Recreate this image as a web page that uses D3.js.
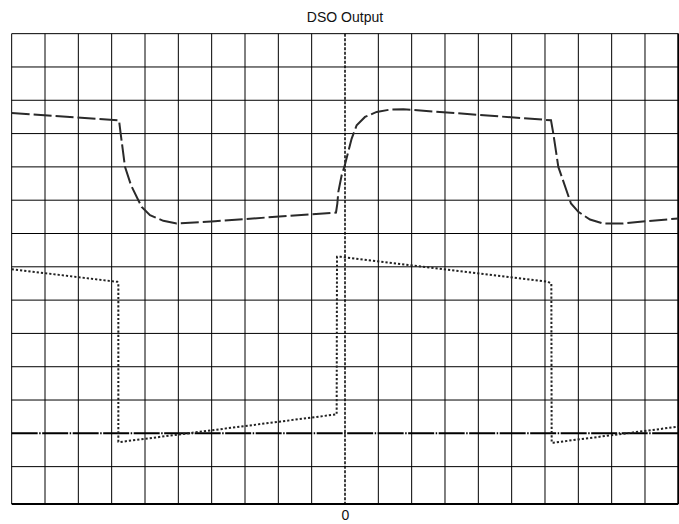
<!DOCTYPE html>
<html>
<head>
<meta charset="utf-8">
<script src="https://cdn.jsdelivr.net/npm/d3@7"></script>
<style>
  html, body { margin: 0; padding: 0; background: #fff; }
  svg { display: block; font-family: "Liberation Sans", Arial, sans-serif; }
</style>
</head>
<body>
<svg id="chart" width="679" height="524"></svg>
<script>
// ---- data (x in horizontal divisions, 0 = trigger; y in vertical divisions, 0 = ground) ----
const title = "DSO Output";
const xTickLabels = ["0"];
const xTickValues = [0];

const ch1X = [-10.0, -6.78, -6.73, -6.6, -6.42, -6.2, -6.1, -5.85, -5.45, -5.05, -3.9, -0.27, -0.23, -0.2, -0.1, -0.02, 0.2, 0.35, 0.6, 0.95, 1.35, 1.75, 6.18, 6.25, 6.4, 6.78, 7.0, 7.35, 7.75, 8.35, 9.05, 10.0];
const ch1Y = [9.62, 9.40, 9.0, 8.0, 7.45, 7.0, 6.8, 6.55, 6.38, 6.3, 6.37, 6.63, 6.9, 7.25, 7.75, 8.0, 8.85, 9.25, 9.5, 9.65, 9.72, 9.73, 9.4, 9.0, 8.0, 6.9, 6.65, 6.42, 6.3, 6.3, 6.37, 6.45];

const ch2X = [-10.0, -6.83, -6.8, -6.8, -6.75, -0.25, -0.24, -0.12, 6.09, 6.19, 6.2, 6.25, 10.0];
const ch2Y = [4.93, 4.55, 4.5, -0.25, -0.26, 0.57, 5.3, 5.3, 4.55, 4.5, -0.28, -0.28, 0.2];

const xDivs = d3.range(-10, 11);       // vertical grid lines
const yDivs = d3.range(-1, 13);        // horizontal grid lines

// ---- layout ----
const svg = d3.select("#chart");
const pLeft = 11.67, pRight = 678.33, pTop = 33.67, pBottom = 504;

const x = d3.scaleLinear().domain([-10, 10]).range([pLeft, pRight]);
const y = d3.scaleLinear().domain([0, 12]).range([433.33, pTop]);

// title
svg.append("text")
  .attr("x", 345).attr("y", 22)
  .attr("text-anchor", "middle")
  .attr("font-size", 14).attr("fill", "#111")
  .text(title);

const g = svg.append("g");

// vertical grid
g.selectAll(".vg").data(xDivs.filter(d => d !== 0)).enter().append("line")
  .attr("x1", d => x(d)).attr("x2", d => x(d))
  .attr("y1", pTop).attr("y2", pBottom)
  .attr("stroke", "#000").attr("stroke-width", 1);

// horizontal grid
g.selectAll(".hg").data(yDivs.filter(d => d !== 0)).enter().append("line")
  .attr("x1", pLeft).attr("x2", pRight)
  .attr("y1", d => y(d)).attr("y2", d => y(d))
  .attr("stroke", "#000").attr("stroke-width", 1);

// borders
g.append("line").attr("x1", pLeft).attr("x2", pRight).attr("y1", pBottom).attr("y2", pBottom)
  .attr("stroke", "#000").attr("stroke-width", 2);
g.append("line").attr("x1", pRight).attr("x2", pRight).attr("y1", pTop).attr("y2", pBottom)
  .attr("stroke", "#000").attr("stroke-width", 2);

// ground reference (dash-dot)
g.append("line").attr("x1", pLeft).attr("x2", pRight).attr("y1", y(0)).attr("y2", y(0))
  .attr("stroke", "#000").attr("stroke-width", 2)
  .attr("stroke-dasharray", "26,1.5,1.5,1.5");

// trigger centre line (dotted)
g.append("line").attr("x1", x(0)).attr("x2", x(0)).attr("y1", pTop).attr("y2", pBottom)
  .attr("stroke", "#000").attr("stroke-width", 1.5)
  .attr("stroke-dasharray", "3,1.5");

// x axis label(s)
const xAxis = d3.axisBottom(x).tickValues(xTickValues).tickFormat((d, i) => xTickLabels[i]).tickSize(0).tickPadding(6);
const ax = svg.append("g").attr("transform", `translate(0,${pBottom})`).call(xAxis);
ax.select(".domain").remove();
ax.selectAll("text").attr("font-size", 14).attr("fill", "#111")
  .attr("font-family", "Liberation Sans, Arial, sans-serif");

// traces
const line = d3.line().x(d => x(d[0])).y(d => y(d[1]));
const ch1 = ch1X.map((v, i) => [v, ch1Y[i]]);
const ch2 = ch2X.map((v, i) => [v, ch2Y[i]]);

g.append("path").attr("d", line(ch1))
  .attr("fill", "none").attr("stroke", "#2a2a2a").attr("stroke-width", 2)
  .attr("stroke-dasharray", "18,4");

g.append("path").attr("d", line(ch2))
  .attr("fill", "none").attr("stroke", "#222").attr("stroke-width", 2)
  .attr("stroke-dasharray", "2.2,2");
</script>
</body>
</html>
